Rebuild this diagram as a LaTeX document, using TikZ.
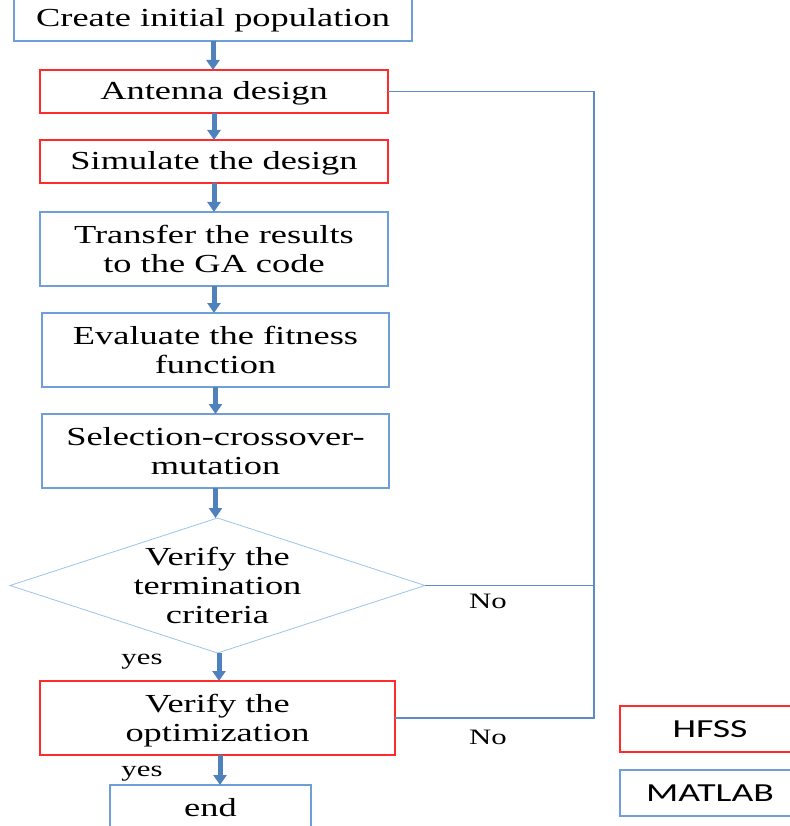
\documentclass[tikz,border=0pt]{standalone}
\usepackage{fontspec}
\setmainfont{Liberation Serif}[FakeStretch=1.4]
\newfontfamily\legendfont{Carlito}[FakeStretch=1.45]
\usetikzlibrary{shapes.geometric,arrows.meta,calc}
\definecolor{boxblue}{HTML}{6F9FD8}
\definecolor{arrowblue}{HTML}{4F81BD}
\definecolor{lineblue}{HTML}{5B8BC9}
\definecolor{diablue}{HTML}{9DC3E6}
\definecolor{boxred}{HTML}{FF2A2A}
\begin{document}
\begin{tikzpicture}[x=1pt,y=-1pt,
  every node/.style={font=\fontsize{26pt}{29pt}\selectfont, inner sep=0pt, outer sep=0pt},
  bluebox/.style={draw=boxblue, line width=1.4pt, align=center},
  redbox/.style={draw=boxred, line width=1.4pt, align=center},
  oneline/.style={text height=17pt, text depth=0pt},
  flowarrow/.style={draw=arrowblue, line width=5pt, -{Triangle[width=13pt,length=10pt]}},
  backline/.style={draw=lineblue, line width=1.6pt},
  lbl/.style={font=\fontsize{22pt}{24pt}\selectfont}
]
\useasboundingbox (0,0) rectangle (789,826);
\node[bluebox, oneline, minimum width=398pt, minimum height=45pt] (create) at (213,18.5) {Create initial population};
\node[redbox, oneline, minimum width=348pt, minimum height=43pt] (ant) at (214,91.5) {Antenna design};
\node[redbox, oneline, minimum width=348pt, minimum height=43pt] (sim) at (214,161.5) {Simulate the design};
\node[bluebox, minimum width=348pt, minimum height=74pt] (trans) at (214,249) {Transfer the results\\to the GA code};
\node[bluebox, minimum width=347pt, minimum height=74pt] (eval) at (215.5,350) {Evaluate the fitness\\function};
\node[bluebox, minimum width=347pt, minimum height=74pt] (sel) at (215.5,451) {Selection-crossover-\\mutation};
\node[diamond, draw=diablue, line width=0.8pt, minimum width=415pt, minimum height=135pt] (dia) at (217.5,585.5) {};
\node[align=center] (diatext) at (dia.center) {Verify the\\termination\\criteria};
\node[redbox, text depth=0pt, minimum width=355pt, minimum height=74pt] (opt) at (217.5,718) {Verify the\\optimization};
\node[bluebox, minimum width=201pt, minimum height=46pt] (end) at (210.5,808) {end};
\node[redbox, minimum width=180pt, minimum height=46pt, font=\legendfont\fontsize{26pt}{29pt}\selectfont] (hfss) at (710,729) {HFSS};
\node[bluebox, minimum width=180pt, minimum height=46pt, font=\legendfont\fontsize{26pt}{29pt}\selectfont] (matlab) at (710,793) {MATLAB};
\coordinate (bus) at (594,0);
% flow arrows
\draw[flowarrow] (create.south) -- (create.south |- ant.north);
\draw[flowarrow] (ant.south) -- (ant.south |- sim.north);
\draw[flowarrow] (sim.south) -- (sim.south |- trans.north);
\draw[flowarrow] (trans.south) -- (trans.south |- eval.north);
\draw[flowarrow] (eval.south) -- (eval.south |- sel.north);
\draw[flowarrow] (sel.south) -- (sel.south |- dia.north);
\draw[flowarrow] ($(dia.south)+(1.5,0)$) -- ($(dia.south |- opt.north)+(1.5,0)$);
\draw[flowarrow] ($(opt.south)+(2.5,0)$) -- ($(opt.south |- end.north)+(2.5,0)$);
% feedback lines
\draw[backline] (ant.east) -- (ant.east -| bus) -- (opt.east -| bus) -- (opt.east);
\draw[backline] (dia.east) -- (dia.east -| bus);
% labels
\node[lbl] (no1) at (488,601) {No};
\node[lbl] (no2) at (488,737) {No};
\node[lbl] (yes1) at (142,662) {yes};
\node[lbl] (yes2) at (142,774) {yes};
\end{tikzpicture}
\end{document}
